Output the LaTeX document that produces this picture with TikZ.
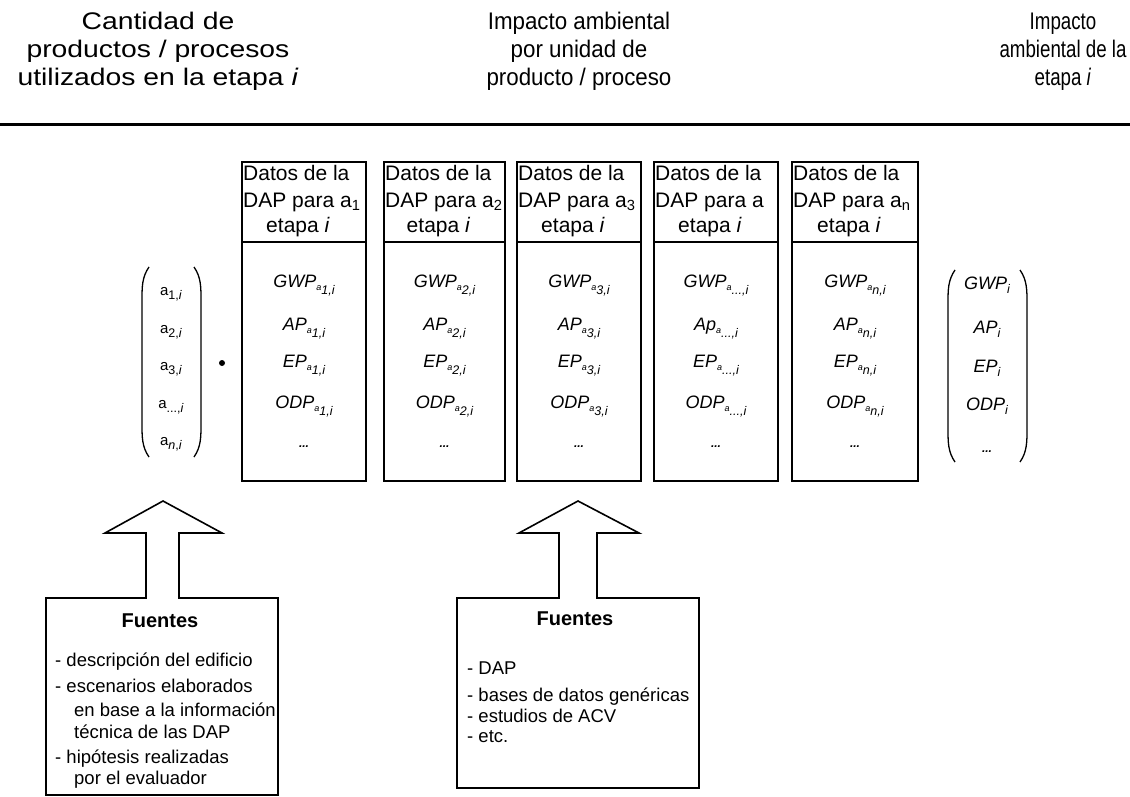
\documentclass[tikz,border=0pt]{standalone}
\usepackage{fontspec}
\setmainfont{Liberation Sans}
\newcommand\hsc[2]{\scalebox{#1}[1]{#2}}
\newcommand\dsub[2]{\raisebox{-3.5pt}{\fontsize{9}{10}\selectfont\textit{#1}}\raisebox{-7pt}{\fontsize{12.5}{14}\selectfont #2}}
\newcommand\ssub[1]{\raisebox{-4pt}{\fontsize{12.5}{14}\selectfont #1}}
\tikzset{
 hdr/.style={font=\fontsize{24}{28}\selectfont, inner sep=0pt, anchor=base},
 cellhd/.style={font=\fontsize{21}{26}\selectfont, inner sep=0pt, anchor=base west},
 cellhc/.style={font=\fontsize{21}{26}\selectfont, inner sep=0pt, anchor=base},
 ent/.style={font=\fontsize{18}{20}\selectfont\itshape, inner sep=0pt, anchor=base},
 vecent/.style={font=\fontsize{15}{16}\selectfont, inner sep=0pt, anchor=base},
 src/.style={font=\fontsize{18.5}{22}\selectfont, inner sep=0pt, anchor=base west},
 srch/.style={font=\fontsize{20}{24}\selectfont\bfseries, inner sep=0pt, anchor=base},
 colbox/.style={draw, line width=2pt},
 blockarrow/.style={draw, line width=1.6pt, fill=white, line join=miter},
 paren/.style={line width=1.3pt}
}
\begin{document}
\begin{tikzpicture}[x=1pt,y=-1pt]
\useasboundingbox (0,0) rectangle (1130,797);
% headers
\node[hdr] (hl1) at (158,30) {\hsc{1.18}{Cantidad de}};
\node[hdr] (hl2) at (158,58) {\hsc{1.18}{productos / procesos}};
\node[hdr] (hl3) at (158,86) {\hsc{1.18}{utilizados en la etapa \textit{i}}};
\node[hdr] (hm1) at (579,30) {\hsc{0.93}{Impacto ambiental}};
\node[hdr] (hm2) at (579,58) {\hsc{0.93}{por unidad de}};
\node[hdr] (hm3) at (579,86) {\hsc{0.93}{producto / proceso}};
\node[hdr] (hr1) at (1063,30) {\hsc{0.78}{Impacto}};
\node[hdr] (hr2) at (1063,58) {\hsc{0.78}{ambiental de la}};
\node[hdr] (hr3) at (1063,86) {\hsc{0.78}{etapa \textit{i}}};
\draw[line width=3pt] (0,125) -- (1130,125);
% columns
\foreach \i/\lx/\rx/\s/\ap/\hs in {1/242/366/1/AP/1, 2/384/505/2/AP/2, 3/517/641/3/AP/3, 4/654/778/{...}/Ap/{}, 5/792/918/{\textit{n}}/AP/n}{
  \pgfmathsetmacro\cx{(\lx+\rx)/2}
  \draw[colbox] (\lx,162) rectangle (\rx,481);
  \draw[colbox] (\lx,242) -- (\rx,242);
  \node[cellhd] (h\i-a) at ({\lx+1},180) {Datos de la};
  \node[cellhd] (h\i-b) at ({\lx+1},207) {DAP para a\textsubscript{\hs}};
  \node[cellhc] (h\i-c) at ({\cx-6},232) {etapa \textit{i}};
  \node[ent] (g\i) at (\cx,287) {GWP\dsub{a}{\s,\textit{i}}};
  \node[ent] (ap\i) at (\cx,330) {\ap\dsub{a}{\s,\textit{i}}};
  \node[ent] (ep\i) at (\cx,367) {EP\dsub{a}{\s,\textit{i}}};
  \node[ent] (od\i) at (\cx,408) {ODP\dsub{a}{\s,\textit{i}}};
  \node[ent] (dt\i) at (\cx,447) {\fontsize{12}{14}\selectfont\textbf{...}};
}
% left vector
\draw[paren] (149,267) .. controls (142,277) and (142,287) .. (142,300) -- (142,424) .. controls (142,437) and (142,447) .. (149,457);
\draw[paren] (194,267) .. controls (201,277) and (201,287) .. (201,300) -- (201,424) .. controls (201,437) and (201,447) .. (194,457);
\node[vecent] (va1) at (171,295) {a\ssub{1,\textit{i}}};
\node[vecent] (va2) at (171,333) {a\ssub{2,\textit{i}}};
\node[vecent] (va3) at (171,370) {a\ssub{3,\textit{i}}};
\node[vecent] (va4) at (171,408) {a\ssub{...,\textit{i}}};
\node[vecent] (va5) at (171,445) {a\ssub{\textit{n},\textit{i}}};
\fill (222,363) circle (3pt);
% right vector
\draw[paren] (955,270) .. controls (948,280) and (948,290) .. (948,303) -- (948,429) .. controls (948,442) and (948,452) .. (955,462);
\draw[paren] (1020,270) .. controls (1027,280) and (1027,290) .. (1027,303) -- (1027,429) .. controls (1027,442) and (1027,452) .. (1020,462);
\node[ent] (vr1) at (987,289) {GWP\ssub{\textit{i}}};
\node[ent] (vr2) at (987,333) {AP\ssub{\textit{i}}};
\node[ent] (vr3) at (987,372) {EP\ssub{\textit{i}}};
\node[ent] (vr4) at (987,410) {ODP\ssub{\textit{i}}};
\node[ent] (vr5) at (987,452) {\fontsize{12}{14}\selectfont\textbf{...}};
% source boxes with block arrows
\draw[blockarrow] (46,795) -- (46,598) -- (146,598) -- (146,533) -- (105,533) -- (163,501) -- (222,533) -- (179,533) -- (179,598) -- (278,598) -- (278,795) -- cycle;
\draw[blockarrow] (457,788) -- (457,598) -- (559,598) -- (559,533) -- (519,533) -- (578,501) -- (639,533) -- (597,533) -- (597,598) -- (699,598) -- (699,788) -- cycle;
\node[srch] (f1) at (160,627) {Fuentes};
\node[src] (l1) at (55,666) {- descripción del edificio};
\node[src] (l2) at (55,692) {- escenarios elaborados};
\node[src] (l3) at (74,716) {en base a la información};
\node[src] (l4) at (74,738) {técnica de las DAP};
\node[src] (l5) at (55,763) {- hipótesis realizadas};
\node[src] (l6) at (74,784) {por el evaluador};
\node[srch] (f2) at (575,625) {Fuentes};
\node[src] (m1) at (467,674) {- DAP};
\node[src] (m2) at (467,701) {- bases de datos genéricas};
\node[src] (m3) at (467,722) {- estudios de ACV};
\node[src] (m4) at (467,742) {- etc.};
\end{tikzpicture}
\end{document}
